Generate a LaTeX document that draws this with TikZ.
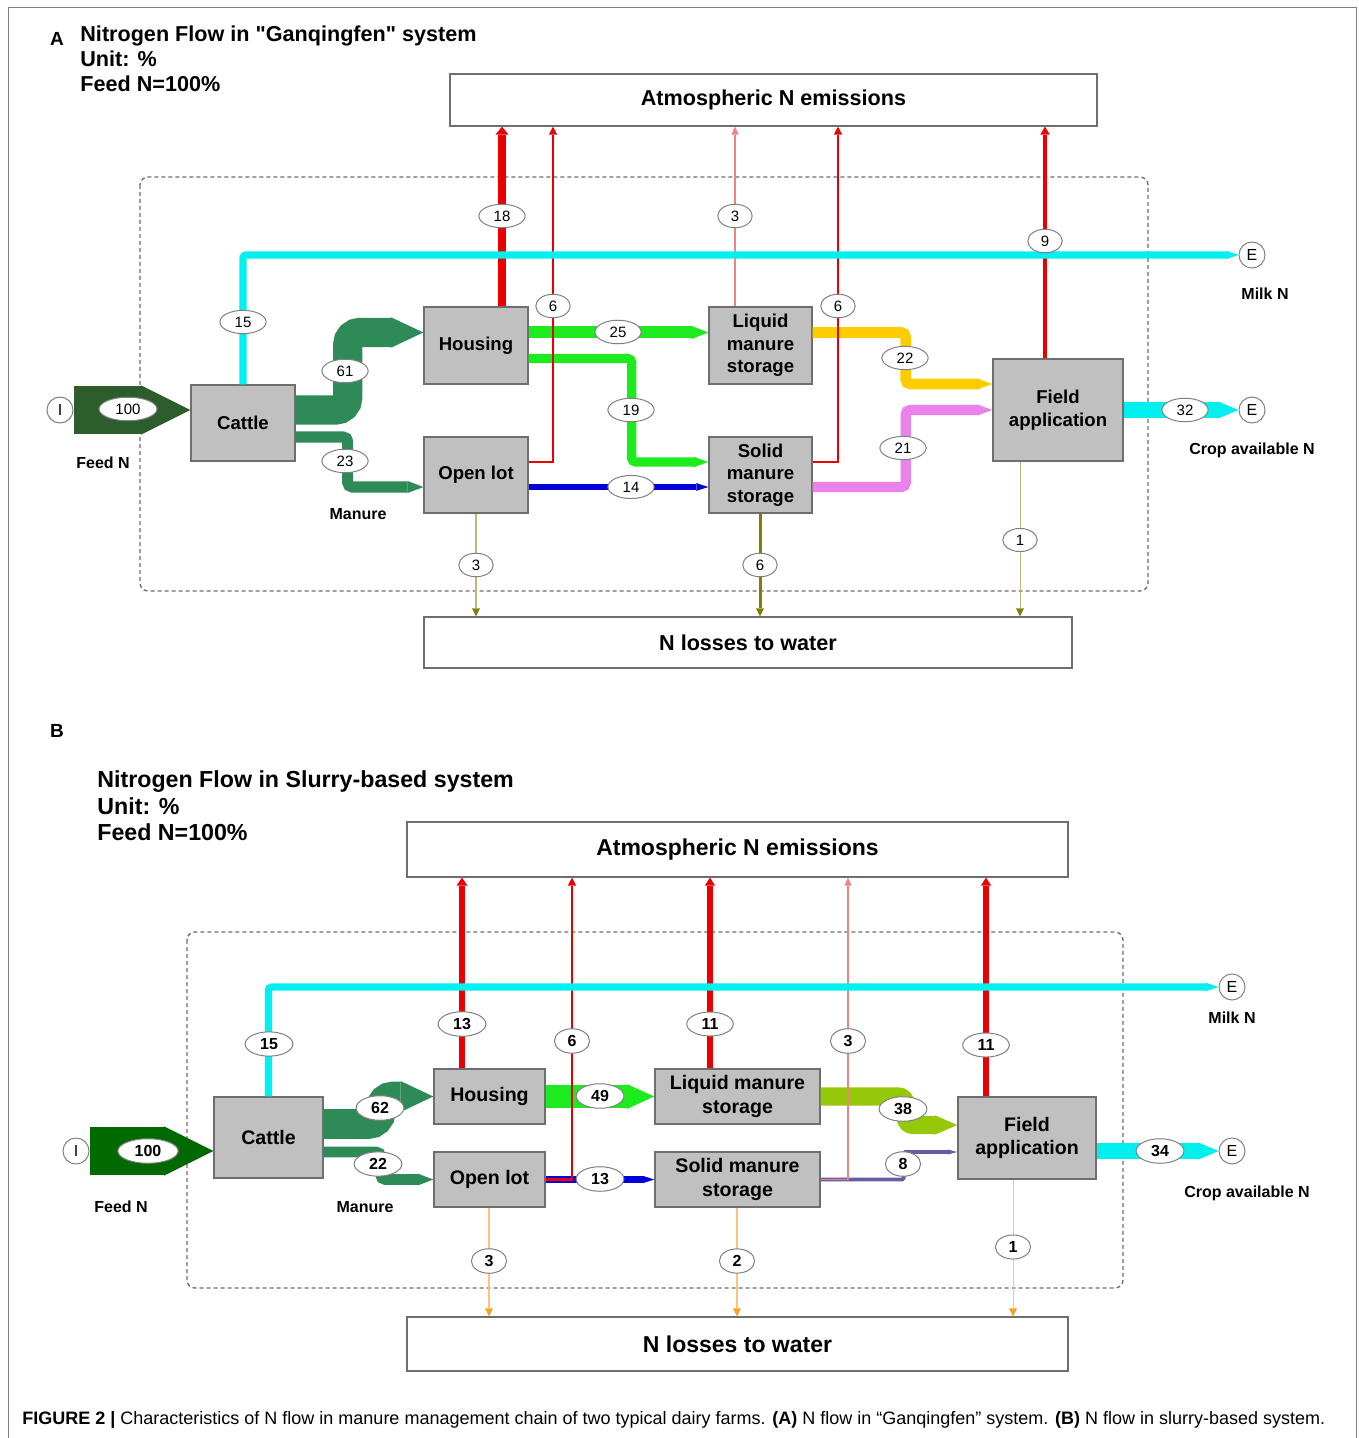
\documentclass[tikz,border=0pt]{standalone}
\usepackage{fontspec}
\setmainfont{Liberation Sans}[Ligatures=TeXOff]
\usetikzlibrary{positioning, calc, arrows.meta, shapes.geometric}

\definecolor{boxgray}{RGB}{192,192,192}
\definecolor{edgegray}{RGB}{110,110,110}
\definecolor{feedA}{RGB}{45,92,45}
\definecolor{feedB}{RGB}{0,105,0}
\definecolor{manure}{RGB}{46,139,87}
\definecolor{liquidgreen}{RGB}{30,235,30}
\definecolor{flowblue}{RGB}{0,0,220}
\definecolor{flowgold}{RGB}{255,204,0}
\definecolor{flowviolet}{RGB}{235,130,235}
\definecolor{flowcyan}{RGB}{0,240,240}
\definecolor{flowlime}{RGB}{150,200,10}
\definecolor{flowslate}{RGB}{100,95,165}
\definecolor{emred}{RGB}{235,0,0}
\definecolor{empink}{RGB}{240,130,130}
\definecolor{lossolive}{RGB}{128,128,0}
\definecolor{lossorange}{RGB}{245,160,30}

\tikzset{
  unit/.style={draw=edgegray, fill=boxgray, line width=0.7pt, inner sep=1pt, align=center},
  sink/.style={draw=edgegray, fill=white, line width=0.6pt, inner sep=0pt},
  val/.style={ellipse, draw=gray, fill=white, line width=0.5pt, inner xsep=4pt, inner ysep=1.5pt},
  ends/.style={circle, draw=gray, fill=white, line width=0.5pt, minimum size=13pt, inner sep=0pt,
    font=\fontsize{8}{9}\selectfont},
  side/.style={font=\fontsize{8}{9}\selectfont\bfseries},
  flow/.style={line width=#1*0.24pt, rounded corners=#1*0.1pt,
    -{Triangle[length=3pt 0.9, width=0.6pt 1, line width=0pt]}},
  em/.style={line width=#1*0.24pt, -{Triangle[length=4pt, width=3pt 0.8, line width=0pt]}},
  lossA/.style={line width=0.3pt+#1*0.2pt, draw=lossolive!55,
    -{Triangle[length=4pt, width=4pt, line width=0pt, color=lossolive]}},
  lossB/.style={line width=0.3pt+#1*0.2pt, draw=lossorange!60,
    -{Triangle[length=4pt, width=4pt, line width=0pt, color=lossorange]}},
}

\begin{document}
\begin{tikzpicture}[x=0.5pt, y=-0.5pt]
    \useasboundingbox (0,0) rectangle (1358,1438);

    % Outer frame
    \draw[gray, line width=0.5pt] (8,1438) -- (8,8) -- (1356,8) -- (1356,1438);

    % ================= PANEL A =================
    \node[font=\fontsize{9.5}{10}\selectfont\bfseries] (tagA) at (57,39) {A};
    \node[anchor=west, align=left, inner sep=0pt, font=\fontsize{10.8}{12.5}\selectfont\bfseries] (titleA) at (80,59)
        {Nitrogen Flow in "Ganqingfen" system\\Unit: \%\\Feed N=100\%};

    % --- sinks and system boundary ---
    \node[sink, minimum width=323.5pt, minimum height=26pt, font=\fontsize{10.8}{12}\selectfont\bfseries]
        (atmosA) at (773.5,100) {Atmospheric N emissions};
    \node[sink, minimum width=324pt, minimum height=25.5pt, font=\fontsize{10.8}{12}\selectfont\bfseries]
        (waterA) at (748,642.5) {N losses to water};
    \draw[edgegray, dash pattern=on 2pt off 1.5pt, line width=0.7pt, rounded corners=4pt]
        (140,177) rectangle (1148,591);

    % --- compartments ---
    \begin{scope}[every node/.append style={font=\fontsize{9.3}{11.2}\selectfont\bfseries}]
    \node[unit, minimum width=52pt, minimum height=38pt] (cattleA) at (243,423) {Cattle};
    \node[unit, minimum width=52pt, minimum height=38.5pt] (housingA) at (476,345.5) {Housing};
    \node[unit, minimum width=52pt, minimum height=38pt] (openlotA) at (476,475) {Open lot};
    \node[unit, minimum width=51.5pt, minimum height=38.5pt] (liquidA) at (760.5,345.5) {Liquid\\manure\\storage};
    \node[unit, minimum width=51.5pt, minimum height=38pt] (solidA) at (760.5,475) {Solid\\manure\\storage};
    \node[unit, minimum width=65pt, minimum height=51pt] (fieldA) at (1058,410) {Field\\application};
    \end{scope}

    \node[ends] (inA) at (60,410) {I};
    \node[ends] (milkA) at (1252,255) {E};
    \node[ends] (cropA) at (1252,410) {E};

    % --- manure chain ---
    \draw[flow=100, feedA] (inA.east) -- ($(cattleA.west)+(0,-13)$);
    \draw[flow=61, manure] ($(cattleA.east)+(0,-13)$) -- ++(52,0) |- ($(housingA.west)+(0,-13)$);
    \draw[flow=23, manure] ($(cattleA.east)+(0,14)$) -- ++(52,0) |- ($(openlotA.west)+(0,12)$);
    \draw[flow=25, liquidgreen] ($(housingA.east)+(0,-13)$) -- ($(liquidA.west)+(0,-13)$);
    \draw[flow=19, liquidgreen] ($(housingA.east)+(0,13)$) -- ++(103,0) |- ($(solidA.west)+(0,-13)$);
    \draw[flow=14, flowblue] ($(openlotA.east)+(0,12)$) -- ($(solidA.west)+(0,12)$);
    \draw[flow=22, flowgold] ($(liquidA.east)+(0,-13)$) -- ++(93,0) |- ($(fieldA.west)+(0,-26)$);
    \draw[flow=21, flowviolet] ($(solidA.east)+(0,12)$) -- ++(93,0) |- (fieldA.west);
    \draw[flow=32, flowcyan] (fieldA.east) -- (cropA.west);

    % --- gaseous losses ---
    \draw[em=18, emred] (502,0 |- housingA.north) -- (502,0 |- atmosA.south);
    \draw[em=6, emred] ($(openlotA.east)+(0,-13)$) -| (553,0 |- atmosA.south);
    \draw[em=3, empink] (735,0 |- liquidA.north) -- (735,0 |- atmosA.south);
    \draw[em=6, emred] ($(solidA.east)+(0,-13)$) -| (838,0 |- atmosA.south);
    \draw[em=9, emred] (1045,0 |- fieldA.north) -- (1045,0 |- atmosA.south);

    % --- milk ---
    \draw[flow=15, flowcyan] (cattleA.north) |- (milkA.west);

    % --- losses to water ---
    \draw[lossA=3] (476,0 |- openlotA.south) -- (476,0 |- waterA.north);
    \draw[lossA=6, lossolive] (760,0 |- solidA.south) -- (760,0 |- waterA.north);
    \draw[lossA=1] (1020,0 |- fieldA.south) -- (1020,0 |- waterA.north);

    % --- values ---
    \begin{scope}[every node/.append style={font=\fontsize{7.5}{8}\selectfont}]
    \node[val] (vfeedA) at (128,409) {100};
    \node[val] (vhouA) at (345,371) {61};
    \node[val] (vlotA) at (345,461) {23};
    \node[val] (vmilkA) at (243,322) {15};
    \node[val] (ehouA) at (502,216) {18};
    \node[val] (elotA) at (553,306) {6};
    \node[val] (eliqA) at (735,216) {3};
    \node[val] (esolA) at (838,306) {6};
    \node[val] (efldA) at (1045,241) {9};
    \node[val] (vliqA) at (618,332) {25};
    \node[val] (vsolA) at (631,410) {19};
    \node[val] (vblueA) at (631,487) {14};
    \node[val] (vgoldA) at (905,358) {22};
    \node[val] (vvioA) at (903,448) {21};
    \node[val] (vcropA) at (1185,410) {32};
    \node[val] (wlotA) at (476,565) {3};
    \node[val] (wsolA) at (760,565) {6};
    \node[val] (wfldA) at (1020,540) {1};
    \end{scope}

    \node[side] (feedtxtA) at (103,463) {Feed N};
    \node[side] (manuretxtA) at (358,514) {Manure};
    \node[side] (milktxtA) at (1265,294) {Milk N};
    \node[side] (croptxtA) at (1252,450) {Crop available N};

    % ================= PANEL B =================
    \node[font=\fontsize{9.5}{10}\selectfont\bfseries] (tagB) at (57,731) {B};
    \node[anchor=west, align=left, inner sep=0pt, font=\fontsize{11.6}{13.2}\selectfont\bfseries] (titleB) at (97,806)
        {Nitrogen Flow in Slurry-based system\\Unit: \%\\Feed N=100\%};

    % --- sinks and system boundary ---
    \node[sink, minimum width=330.5pt, minimum height=27.5pt, font=\fontsize{11.5}{13}\selectfont\bfseries]
        (atmosB) at (737.5,849.5) {Atmospheric N emissions};
    \node[sink, minimum width=330.5pt, minimum height=27pt, font=\fontsize{11.5}{13}\selectfont\bfseries]
        (waterB) at (737.5,1344) {N losses to water};
    \draw[edgegray, dash pattern=on 2pt off 1.5pt, line width=0.7pt, rounded corners=4pt]
        (187,932) rectangle (1123,1288);

    % --- compartments ---
    \begin{scope}[every node/.append style={font=\fontsize{9.8}{11.6}\selectfont\bfseries}]
    \node[unit, minimum width=54.5pt, minimum height=40.5pt] (cattleB) at (268.5,1137.5) {Cattle};
    \node[unit, minimum width=55.5pt, minimum height=27.5pt] (housingB) at (489.5,1096.5) {Housing};
    \node[unit, minimum width=55.5pt, minimum height=27.5pt] (openlotB) at (489.5,1179.5) {Open lot};
    \node[unit, minimum width=82.5pt, minimum height=27.5pt] (liquidB) at (737.5,1096.5) {Liquid manure\\storage};
    \node[unit, minimum width=82.5pt, minimum height=27.5pt] (solidB) at (737.5,1179.5) {Solid manure\\storage};
    \node[unit, minimum width=69pt, minimum height=41pt] (fieldB) at (1027,1138) {Field\\application};
    \end{scope}

    \node[ends] (inB) at (76,1151) {I};
    \node[ends] (milkB) at (1232,987) {E};
    \node[ends] (cropB) at (1232,1151) {E};

    % --- manure chain ---
    \draw[flow=100, feedB] (inB.east) -- ($(cattleB.west)+(0,13.5)$);
    \draw[flow=62, manure] ($(cattleB.east)+(0,-13.5)$) -- ++(57,0) |- (housingB.west);
    \draw[flow=22, manure] ($(cattleB.east)+(0,14.5)$) -- ++(57,0) |- (openlotB.west);
    \draw[flow=49, liquidgreen] (housingB.east) -- (liquidB.west);
    \draw[flow=38, flowlime] (liquidB.east) -- ++(85,0) |- ($(fieldB.west)+(0,-13)$);
    \draw[flow=13, flowblue] (openlotB.east) -- (solidB.west);
    \draw[flow=8, flowslate] (solidB.east) -- ++(83,0) |- ($(fieldB.west)+(0,14)$);
    \draw[flow=34, flowcyan] ($(fieldB.east)+(0,13)$) -- (cropB.west);

    % --- gaseous losses ---
    \draw[em=13, emred] (462,0 |- housingB.north) -- (462,0 |- atmosB.south);
    \draw[em=6, emred] (openlotB.east) -| (572,0 |- atmosB.south);
    \draw[em=11, emred] (710,0 |- liquidB.north) -- (710,0 |- atmosB.south);
    \draw[em=3, empink] (solidB.east) -| (848,0 |- atmosB.south);
    \draw[em=11, emred] (986,0 |- fieldB.north) -- (986,0 |- atmosB.south);

    % --- milk ---
    \draw[flow=15, flowcyan] (cattleB.north) |- (milkB.west);

    % --- losses to water ---
    \draw[lossB=3] (489,0 |- openlotB.south) -- (489,0 |- waterB.north);
    \draw[lossB=2] (737,0 |- solidB.south) -- (737,0 |- waterB.north);
    \draw[lossB=1] (1013,0 |- fieldB.south) -- (1013,0 |- waterB.north);

    % --- values ---
    \begin{scope}[every node/.append style={font=\fontsize{8}{9}\selectfont\bfseries}]
    \node[val] (vfeedB) at (148,1151) {100};
    \node[val] (vhouB) at (380,1108) {62};
    \node[val] (vlotB) at (378,1164) {22};
    \node[val] (vmilkB) at (269,1044) {15};
    \node[val] (ehouB) at (462,1024) {13};
    \node[val] (elotB) at (572,1041) {6};
    \node[val] (eliqB) at (710,1024) {11};
    \node[val] (esolB) at (848,1041) {3};
    \node[val] (efldB) at (986,1045) {11};
    \node[val] (vliqB) at (600,1096) {49};
    \node[val] (vlimeB) at (903,1109) {38};
    \node[val] (vblueB) at (600,1179) {13};
    \node[val] (vslateB) at (903,1164) {8};
    \node[val] (vcropB) at (1160,1151) {34};
    \node[val] (wlotB) at (489,1261) {3};
    \node[val] (wsolB) at (737,1261) {2};
    \node[val] (wfldB) at (1013,1247) {1};
    \end{scope}

    \node[side] (feedtxtB) at (121,1207) {Feed N};
    \node[side] (manuretxtB) at (365,1207) {Manure};
    \node[side] (milktxtB) at (1232,1018) {Milk N};
    \node[side] (croptxtB) at (1247,1193) {Crop available N};

    % --- caption ---
    \node[anchor=west, inner sep=0pt, font=\fontsize{9}{10}\selectfont] (caption) at (22,1420)
        {\textbf{FIGURE 2 |} Characteristics of N flow in manure management chain of two typical dairy farms.
         \textbf{(A)} N flow in “Ganqingfen” system. \textbf{(B)} N flow in slurry-based system.};

\end{tikzpicture}
\end{document}
